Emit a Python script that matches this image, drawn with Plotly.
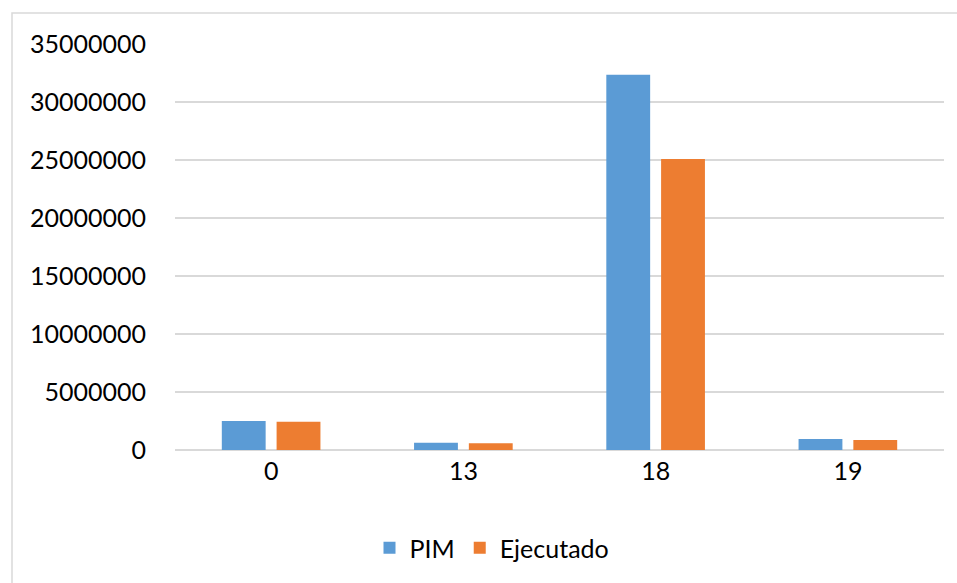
import plotly.graph_objects as go

# Categories and series values
categories = ["0", "13", "18", "19"]
pim = [2500000, 630000, 32350000, 950000]
ejecutado = [2440000, 580000, 25090000, 860000]
y_ticks = [0, 5000000, 10000000, 15000000, 20000000, 25000000, 30000000, 35000000]

FONT = "Lato"
GRID = "#D9D9D9"

fig = go.Figure()
fig.add_trace(go.Bar(name="PIM", x=categories, y=pim, marker=dict(color="#5B9BD5", line=dict(width=0))))
fig.add_trace(go.Bar(name="Ejecutado", x=categories, y=ejecutado, marker=dict(color="#ED7D31", line=dict(width=0))))

W, H = 957, 583
L, R, T, B = 175, 13, 44, 133
pw, ph = W - L - R, H - T - B

def px_x(x):
    return (x - L) / pw

def px_y(y):
    return (H - B - y) / ph

# Outer chart frame
fig.add_shape(type="rect", xref="paper", yref="paper",
              x0=px_x(12), x1=px_x(965), y0=px_y(595), y1=px_y(13),
              line=dict(color=GRID, width=1.5), fillcolor="rgba(0,0,0,0)", layer="below")

fig.update_layout(
    width=W, height=H,
    margin=dict(l=L, r=R, t=T, b=B, pad=0),
    paper_bgcolor="white", plot_bgcolor="white",
    barmode="group", bargap=0.43, bargroupgap=0.2,
    font=dict(family=FONT, size=25, color="#000000"),
    showlegend=True,
    legend=dict(orientation="h", x=px_x(492), xanchor="center", y=px_y(548), yanchor="middle",
                font=dict(family=FONT, size=25, color="#000000"), itemwidth=30,
                bgcolor="rgba(0,0,0,0)"),
    xaxis=dict(type="category", showgrid=False, showline=False, zeroline=False,
               ticks="", ticklabelstandoff=4, tickfont=dict(size=25)),
    yaxis=dict(range=[0, 35000000], tickvals=y_ticks, ticktext=[str(v) for v in y_ticks],
               showgrid=True, gridcolor=GRID, gridwidth=1.5, zeroline=True, zerolinecolor=GRID,
               zerolinewidth=1.5, showline=False, ticks="", ticklabelstandoff=28,
               tickfont=dict(size=25)),
)

fig.write_html("out.html")
